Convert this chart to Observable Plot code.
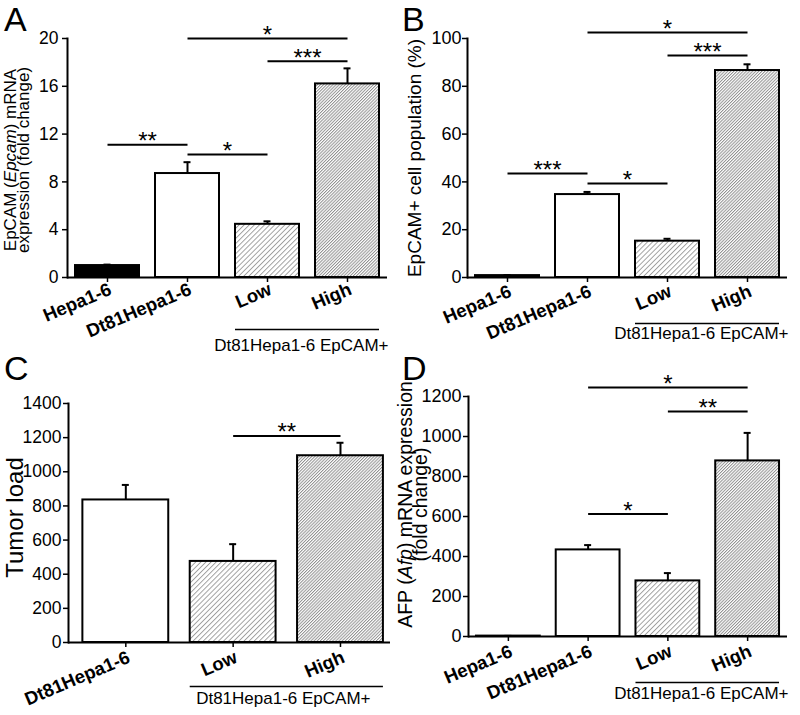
<!DOCTYPE html>
<html><head><meta charset="utf-8">
<script src="https://cdn.jsdelivr.net/npm/d3@7"></script>
<script src="https://cdn.jsdelivr.net/npm/@observablehq/plot@0.6"></script>
<style>
body{margin:0;background:#fff;font-family:Arial,"Liberation Sans",sans-serif;}
#fig{position:relative;width:800px;height:715px;overflow:hidden;background:#fff}
.panel{position:absolute}
.letter{position:absolute;font-size:34px;line-height:34px;color:#000;font-family:Arial,"Liberation Sans",sans-serif}
</style></head><body>
<svg width="0" height="0" style="position:absolute">
<defs>
 <pattern id="hatchLow" patternUnits="userSpaceOnUse" width="3.6" height="3.6" patternTransform="rotate(45)">
   <rect width="3.6" height="3.6" fill="#fff"/>
   <line x1="0.5" y1="0" x2="0.5" y2="3.6" stroke="#909090" stroke-width="0.85"/>
 </pattern>
 <pattern id="hatchHigh" patternUnits="userSpaceOnUse" width="2.2" height="2.2" patternTransform="rotate(45)">
   <rect width="2.2" height="2.2" fill="#fff"/>
   <line x1="0.5" y1="0" x2="0.5" y2="2.2" stroke="#8c8c8c" stroke-width="0.95"/>
 </pattern>
</defs></svg>
<div id="fig"></div>
<script>
// ---- data ----
const catsABD = ["Hepa1-6", "Dt81Hepa1-6", "Low", "High"];
const catsC = ["Dt81Hepa1-6", "Low", "High"];

const valuesA = [1.0, 8.7, 4.45, 16.2];
const errorsA = [0.08, 0.95, 0.25, 1.3];
const ticksA = [0, 4, 8, 12, 16, 20];
const sigA = [["Hepa1-6", "Dt81Hepa1-6", 11.1, "**"], ["Dt81Hepa1-6", "Low", 10.3, "*"], ["Low", "High", 18.1, "***"], ["Dt81Hepa1-6", "High", 20, "*"]];

const valuesB = [0.8, 34.7, 15.2, 86.6];
const errorsB = [0.2, 1.1, 1.0, 2.6];
const ticksB = [0, 20, 40, 60, 80, 100];
const sigB = [["Hepa1-6", "Dt81Hepa1-6", 43.5, "***"], ["Dt81Hepa1-6", "Low", 39.3, "*"], ["Low", "High", 92.9, "***"], ["Dt81Hepa1-6", "High", 102.5, "*"]];

const valuesC = [835, 475, 1094];
const errorsC = [88, 101, 76];
const ticksC = [0, 200, 400, 600, 800, 1000, 1200, 1400];
const sigC = [["Low", "High", 1210, "**"]];

const valuesD = [2, 433, 278, 878];
const errorsD = [1, 24, 39, 140];
const ticksD = [0, 200, 400, 600, 800, 1000, 1200];
const sigD = [["Dt81Hepa1-6", "Low", 612, "*"], ["Low", "High", 1125, "**"], ["Dt81Hepa1-6", "High", 1245, "*"]];

const ylabelA = "EpCAM (_Epcam_) mRNA\nexpression (fold change)";
const ylabelB = "EpCAM+ cell population (%)";
const ylabelC = "Tumor load";
const ylabelD = "AFP (_Afp_) mRNA expression\n(fold change)";
const groupLabel = "Dt81Hepa1-6 EpCAM+";
const groupFrom = "Low", groupTo = "High";
const panelLetters = ["A", "B", "C", "D"];

// ---- styles ----
const barFill = {"Hepa1-6": "#000", "Dt81Hepa1-6": "#fff", "Low": "url(#hatchLow)", "High": "url(#hatchHigh)"};
const FONT = 'Arial, "Liberation Sans", sans-serif';

function italicize(svg) {
  svg.querySelectorAll("text, tspan").forEach(el => {
    if (el.childElementCount === 0 && el.textContent.includes("_")) {
      const parts = el.textContent.split("_");
      el.textContent = "";
      parts.forEach((p, i) => {
        const t = document.createElementNS("http://www.w3.org/2000/svg", "tspan");
        if (i % 2) t.setAttribute("font-style", "italic");
        t.textContent = p;
        el.appendChild(t);
      });
    }
  });
}

function panel(o) {
  const n = o.cats.length;
  const pi = 0.2, po = o.po ?? 0.1;
  const fw = o.width - o.ml - o.mr;
  const step = fw / (n - pi + 2 * po);
  const bw = step * (1 - pi);
  const cap = 7;
  const data = o.cats.map((c, i) => ({cat: c, value: o.values[i], err: o.errors[i]}));
  const sig = o.sig.map(([from, to, y, label]) => ({from, to, y, label}));
  const idx = c => o.cats.indexOf(c);
  const marks = [
    Plot.barY(data, {x: "cat", y: "value", fill: d => barFill[d.cat], stroke: "#000", strokeWidth: 2}),
    Plot.ruleX(data, {x: "cat", y1: "value", y2: d => d.value + d.err, strokeWidth: 2}),
    Plot.tickY(data, {x: "cat", y: d => d.value + d.err, insetLeft: (bw - cap) / 2, insetRight: (bw - cap) / 2, strokeWidth: 2}),
    Plot.ruleY([0], {strokeWidth: 2}),
    Plot.frame({anchor: "left", strokeWidth: 2}),
    Plot.axisY({ticks: o.ticks, tickFormat: d => String(d), tickSize: 5, tickPadding: o.tp, fontSize: o.tfs, label: null, strokeWidth: 1.5}),
    Plot.axisX({tickSize: 5, tickFormat: () => "", label: null, strokeWidth: 1.5}),
    Plot.axisX({tickSize: 0, tickPadding: o.xtp, tickRotate: -23, dx: 3, fontSize: 18.5, fontWeight: "bold", label: null}),
    Plot.link(sig, {x1: "from", x2: "to", y1: "y", y2: "y", strokeWidth: 2}),
    ...sig.map(s => Plot.text([s], {x: "from", y: "y", text: "label", dx: (idx(s.to) - idx(s.from)) * step / 2, dy: 4.5, lineAnchor: "bottom", fontSize: 24})),
    Plot.ruleY([0], {x1: () => groupFrom, x2: () => groupTo, dy: o.bracketDy, strokeWidth: 1.5}),
    Plot.text([groupLabel], {frameAnchor: "bottom-right", textAnchor: "end", lineAnchor: "bottom", dy: o.groupDy, dx: o.groupDx, fontSize: 17}),
    Plot.text([o.ylabel], {frameAnchor: "left", rotate: -90, fontSize: o.yfs, lineHeight: o.ylh ?? 1, dx: o.ydx, dy: o.ydy ?? 0, lineAnchor: "middle", textAnchor: "middle"})
  ];
  const chart = Plot.plot({
    width: o.width, height: o.height,
    marginTop: o.mt, marginBottom: o.mb, marginLeft: o.ml, marginRight: o.mr,
    x: {type: "band", domain: o.cats, paddingInner: pi, paddingOuter: po, align: o.align ?? 0.5, round: false},
    y: {domain: o.ydomain},
    color: {type: "identity"},
    style: {fontFamily: FONT, color: "#000", background: "transparent", overflow: "visible"},
    marks
  });
  italicize(chart);
  return chart;
}

const fig = document.getElementById("fig");
function place(node, left, top) {
  const d = document.createElement("div");
  d.className = "panel";
  d.style.left = left + "px";
  d.style.top = top + "px";
  d.appendChild(node);
  fig.appendChild(d);
}
function letter(t, left, top) {
  const d = document.createElement("div");
  d.className = "letter";
  d.style.left = left + "px";
  d.style.top = top + "px";
  d.textContent = t;
  fig.appendChild(d);
}

place(panel({cats: catsABD, values: valuesA, errors: errorsA, ticks: ticksA, sig: sigA, ydomain: [0, 20],
  width: 400, height: 360, mt: 38, mb: 83, ml: 67, mr: 13, tfs: 17.5, tp: 4, xtp: 11,
  bracketDy: 52, groupDy: 73, groupDx: 1, ylabel: ylabelA, yfs: 17, ylh: 0.78, ydx: -49, ydy: 2}), 0, 0);

place(panel({cats: catsABD, values: valuesB, errors: errorsB, ticks: ticksB, sig: sigB, ydomain: [0, 100],
  width: 400, height: 360, mt: 38, mb: 83, ml: 67, mr: 13, tfs: 18, tp: 1, xtp: 13,
  bracketDy: 46, groupDy: 61, groupDx: 1, ylabel: ylabelB, yfs: 19, ydx: -53, ydy: 0}), 400, 0);

place(panel({cats: catsC, values: valuesC, errors: errorsC, ticks: ticksC, sig: sigC, ydomain: [0, 1400],
  po: 0.1, align: 0.67,
  width: 400, height: 355, mt: 43, mb: 73, ml: 68, mr: 10, tfs: 17.5, tp: 2, xtp: 14,
  bracketDy: 44, groupDy: 61, groupDx: -20, ylabel: ylabelC, yfs: 24, ydx: -53, ydy: -5.5}), 0, 360);

place(panel({cats: catsABD, values: valuesD, errors: errorsD, ticks: ticksD, sig: sigD, ydomain: [0, 1200],
  width: 400, height: 355, mt: 36, mb: 79, ml: 68, mr: 13, tfs: 18, tp: 2, xtp: 14,
  bracketDy: 46, groupDy: 62, groupDx: 1, ylabel: ylabelD, yfs: 19.5, ylh: 0.72, ydx: -53.5, ydy: -12}), 400, 360);

letter(panelLetters[0], 4, 2);
letter(panelLetters[1], 402, 2);
letter(panelLetters[2], 4, 351);
letter(panelLetters[3], 402, 351);
</script>
</body></html>
